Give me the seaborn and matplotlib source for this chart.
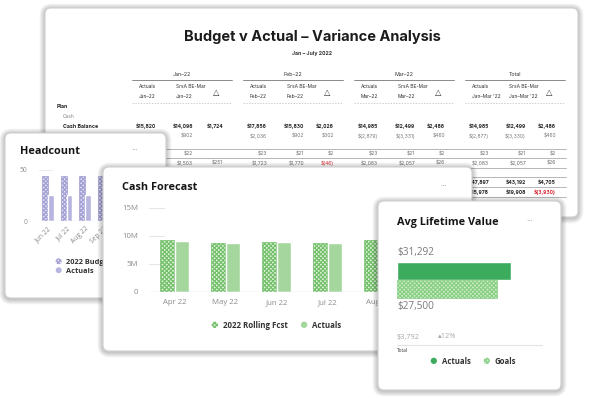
import matplotlib
matplotlib.use("Agg")
import matplotlib.pyplot as plt
import matplotlib.patches as mpatches
from matplotlib.legend_handler import HandlerPatch
import pandas as pd
import seaborn as sns

W, H = 590, 398

# ---------------------------------------------------------------
# Data
# ---------------------------------------------------------------
# Budget v Actual table
month_groups = ["Jan–22", "Feb–22", "Mar–22", "Total"]
period_labels = ["Jan–22", "Feb–22", "Mar–22", "Jan–Mar '22"]
col_heads = ["Actuals", "SrsA BE-Mar"]
cash_balance = ["$15,820", "$14,096", "$1,724", "$17,856", "$15,830", "$2,026",
                "$14,985", "$12,499", "$2,486", "$14,985", "$12,499", "$2,486"]
cash_detail = ["", "$902", "", "$2,036", "$902", "$302",
               "$(2,879)", "$(3,331)", "$460", "$(2,877)", "$(3,330)", "$460"]
units_row = ["", "$22", "", "$23", "$21", "$2",
             "$23", "$21", "$2", "$23", "$21", "$2"]
cost_row = ["$1,754", "$1,503", "$251", "$1,723", "$1,770", "$(46)",
            "$2,083", "$2,057", "$26", "$2,083", "$2,057", "$26"]
total_row_a = ["", "", "", "", "", "", "", "", "", "$47,897", "$43,192", "$4,705"]
total_row_b = ["", "", "", "", "", "", "", "", "", "$15,978", "$19,908", "$(3,930)"]

# Headcount
hc_months = ["Jun 22", "Jul 22", "Aug 22", "Sep 22", "Oct 22", "Nov 22"]
hc_budget = [44, 44, 44, 44, 44, 44]
hc_actual = [25, 25, 25, 25, 25, 25]

# Cash forecast
cf_months = ["Apr 22", "May 22", "Jun 22", "Jul 22", "Aug 22"]
cf_rolling = [9.2e6, 8.8e6, 9.0e6, 8.8e6, 9.3e6]
cf_actual = [9.15e6, 8.8e6, 9.0e6, 8.8e6, 9.3e6]

# Avg lifetime value
ltv_labels = ["Actuals", "Goals"]
ltv_values = [31292, 27500]

# ---------------------------------------------------------------
# Style
# ---------------------------------------------------------------
sns.set_theme(style="white")
plt.rcParams["font.family"] = ["Open Sans", "DejaVu Sans"]
plt.rcParams["hatch.linewidth"] = 0.9

HATCH = "xxxxxxxx"
LAV, LAV_LIGHT, LAV_HATCH = "#b7b5df", "#e4e2f4", "#a29fd4"
CF_GREEN, CF_LIGHT, CF_HATCH = "#a5d69d", "#e3f4df", "#74c06b"
LTV_GREEN, LTV_LIGHT, LTV_HATCH = "#3dab5e", "#d3eecd", "#8ad084"
TICK = "#8c8c8c"

fig = plt.figure(figsize=(W / 100, H / 100), dpi=100)


def layer(z):
    ax = fig.add_axes([0, 0, 1, 1], zorder=z)
    ax.set_xlim(0, W)
    ax.set_ylim(H, 0)
    ax.axis("off")
    return ax


def px_axes(x0, y0, x1, y1, z):
    ax = fig.add_axes([x0 / W, 1 - y1 / H, (x1 - x0) / W, (y1 - y0) / H], zorder=z)
    ax.patch.set_alpha(0)
    return ax


def card(ax, x0, y0, x1, y1):
    # soft shadow, then the white card itself
    for k in range(1, 7):
        ax.add_patch(mpatches.FancyBboxPatch(
            (x0, y0 + 1), x1 - x0, y1 - y0,
            boxstyle=f"round,pad={k * 0.9},rounding_size={6 + k}",
            fc="black", ec="none", alpha=0.04))
    ax.add_patch(mpatches.FancyBboxPatch(
        (x0, y0), x1 - x0, y1 - y0, boxstyle="round,pad=0,rounding_size=6",
        fc="white", ec="#d0d0d0", lw=0.8))


def card_title(ax, x, y, text, dots_x):
    ax.text(x, y, text, fontsize=7.8, fontweight="bold", color="#151515",
            ha="left", va="center")
    ax.text(dots_x, y, "···", fontsize=6, color="#9a9a9a", ha="center", va="center")


class HandlerDot(HandlerPatch):
    def create_artists(self, legend, orig_handle, xdescent, ydescent,
                       width, height, fontsize, trans):
        r = 0.45 * min(width, height)
        p = mpatches.Circle((width / 2 - xdescent, height / 2 - ydescent), r)
        self.update_prop(p, orig_handle, legend)
        p.set_transform(trans)
        return [p]


def dot_legend(ax, handles, labels, anchor, loc, anchor_ax, fontsize, ncol=1):
    ax.legend(handles, labels, loc=loc, bbox_to_anchor=anchor,
              bbox_transform=anchor_ax.transData, ncol=ncol, frameon=False,
              handler_map={mpatches.Patch: HandlerDot()},
              handlelength=1.0, handleheight=1.0, handletextpad=0.5,
              columnspacing=1.6, labelspacing=0.15, borderpad=0, borderaxespad=0,
              prop={"size": fontsize, "weight": "bold"}, labelcolor="#333333")


def style_chart(ax, labelsize):
    sns.despine(ax=ax, left=True, bottom=True)
    ax.set_xlabel("")
    ax.set_ylabel("")
    ax.tick_params(length=0, labelsize=labelsize, labelcolor=TICK)


def hatch_bars(bars, edge):
    for bar in bars:
        bar.set_hatch(HATCH)
        bar.set_edgecolor(edge)
        bar.set_linewidth(0.5)


# ---------------------------------------------------------------
# 1) Budget v Actual card
# ---------------------------------------------------------------
bud = layer(1)
card(bud, 45, 8, 578, 217)
TF = ["Inter", "DejaVu Sans"]
bud.text(312, 37, "Budget v Actual – Variance Analysis", fontsize=10.5, fontweight="bold",
         color="#1c1c1c", ha="center", va="center", family=TF)
bud.text(312, 54, "Jan – July 2022", fontsize=3.8, fontweight="bold", color="#333",
         ha="center", va="center", family=TF)

group_x0 = [132, 243, 354, 465]
col_right = [24, 61, 91]
for x0, month, period in zip(group_x0, month_groups, period_labels):
    bud.text(x0 + 50, 74, month, fontsize=3.8, color="#333", ha="center", va="center", family=TF)
    bud.plot([x0, x0 + 100], [80, 80], color="#777", lw=0.6)
    for k, head in enumerate(col_heads):
        hx = x0 + 7 + k * 37
        bud.text(hx, 86, head, fontsize=3.5, color="#333", ha="left", va="center", family=TF)
        bud.text(hx, 97, period, fontsize=3.5, color="#333", ha="left", va="center", family=TF)
    bud.text(x0 + 84, 92, "△", fontsize=6, color="#333", ha="center", va="center",
             family=["DejaVu Sans"])
    bud.plot([x0, x0 + 100], [103, 103], color="#bbbbbb", lw=0.5, ls=(0, (2, 2)))

bud.text(57, 107, "Plan", fontsize=3.8, fontweight="bold", color="#222", va="center", family=TF)
bud.text(63, 117, "Cash", fontsize=3.5, color="#888", va="center", family=TF)
bud.text(63, 126, "Cash Balance", fontsize=3.8, fontweight="bold", color="#222",
         va="center", family=TF)

rows = [
    (126, cash_balance, "bold", "#222"),
    (136, cash_detail, "normal", "#777"),
    (154, units_row, "normal", "#666"),
    (163, cost_row, "normal", "#666"),
    (182, total_row_a, "bold", "#222"),
    (192, total_row_b, "bold", "#222"),
]
for y, values, weight, color in rows:
    for i, s in enumerate(values):
        g, j = divmod(i, 3)
        c = "#d3262f" if (j == 2 and "(" in s) else color
        bud.text(group_x0[g] + col_right[j], y, s, fontsize=3.6, fontweight=weight,
                 color=c, ha="right", va="center", family=TF)
for y in [149, 158, 168, 177, 187, 197]:
    bud.plot([55, 566], [y, y], color="#9a9a9a", lw=0.5)

# ---------------------------------------------------------------
# 2) Headcount card
# ---------------------------------------------------------------
hc_card = layer(2)
card(hc_card, 5, 133, 166, 298)
card_title(hc_card, 20, 151, "Headcount", 135)

hc_df = pd.DataFrame({
    "month": hc_months * 2,
    "value": hc_budget + hc_actual,
    "series": ["2022 Budget"] * len(hc_months) + ["Actuals"] * len(hc_months),
})
ax_hc = px_axes(38.75, 170, 38.75 + 18.5 * len(hc_months), 221, 2.5)
sns.barplot(data=hc_df, x="month", y="value", hue="series", palette=[LAV_LIGHT, LAV],
            width=0.6, gap=0, saturation=1, errorbar=None, legend=False, ax=ax_hc)
hatch_bars(ax_hc.containers[0], LAV_HATCH)
ax_hc.set_ylim(0, 50)
ax_hc.set_xlim(-0.5, len(hc_months) - 0.5)
ax_hc.set_yticks([0, 50])
ax_hc.set_xticks(range(len(hc_months)))
ax_hc.set_xticklabels(hc_months, rotation=45, ha="right", rotation_mode="anchor")
style_chart(ax_hc, 4.8)
ax_hc.tick_params(axis="y", pad=8)
ax_hc.tick_params(axis="x", pad=3)
ax_hc.axhline(0, color="#dde2f0", lw=1)
ax_hc.axhline(50, xmax=0.12, color="#ececec", lw=0.8, zorder=0)
dot_legend(ax_hc,
           [mpatches.Patch(fc=LAV_LIGHT, ec=LAV_HATCH, hatch=HATCH, lw=0),
            mpatches.Patch(fc=LAV, lw=0)],
           ["2022 Budget", "Actuals"], (55, 258), "upper left", hc_card, 5.3)

# ---------------------------------------------------------------
# 3) Cash Forecast card
# ---------------------------------------------------------------
cf_card = layer(3)
card(cf_card, 103, 167, 472, 351)
card_title(cf_card, 122, 187, "Cash Forecast", 444)

cf_df = pd.DataFrame({
    "month": cf_months * 2,
    "value": cf_rolling + cf_actual,
    "series": ["2022 Rolling Fcst"] * len(cf_months) + ["Actuals"] * len(cf_months),
})
ax_cf = px_axes(149, 208, 149 + 51 * len(cf_months), 292, 3.5)
sns.barplot(data=cf_df, x="month", y="value", hue="series", palette=[CF_LIGHT, CF_GREEN],
            width=0.6, gap=0.13, saturation=1, errorbar=None, legend=False, ax=ax_cf)
hatch_bars(ax_cf.containers[0], CF_HATCH)
ax_cf.set_ylim(0, 15e6)
ax_cf.set_xlim(-0.5, len(cf_months) - 0.5)
ax_cf.set_yticks([0, 5e6, 10e6, 15e6])
ax_cf.set_yticklabels(["0", "5M", "10M", "15M"])
style_chart(ax_cf, 5.6)
ax_cf.tick_params(axis="y", pad=8)
ax_cf.tick_params(axis="x", pad=5)
ax_cf.axhline(0, color="#dde2f0", lw=1)
for v in [5e6, 10e6, 15e6]:
    ax_cf.axhline(v, xmax=0.06, color="#e6e6e6", lw=0.8, zorder=0)
dot_legend(ax_cf,
           [mpatches.Patch(fc=CF_LIGHT, ec=CF_HATCH, hatch=HATCH, lw=0),
            mpatches.Patch(fc=CF_GREEN, lw=0)],
           ["2022 Rolling Fcst", "Actuals"], (276, 325), "center", cf_card, 5.7, ncol=2)

# ---------------------------------------------------------------
# 4) Avg Lifetime Value card
# ---------------------------------------------------------------
ltv_card = layer(4)
card(ltv_card, 378, 201, 561, 390)
card_title(ltv_card, 397, 222, "Avg Lifetime Value", 530)

ax_ltv = px_axes(397, 261.5, 397 + 114 * 35000 / ltv_values[0], 298.5, 4.5)
sns.barplot(x=ltv_values, y=ltv_labels, hue=ltv_labels, palette=[LTV_GREEN, LTV_LIGHT],
            orient="h", width=0.95, saturation=1, errorbar=None, legend=False, ax=ax_ltv)
hatch_bars(ax_ltv.containers[1], LTV_HATCH)
ax_ltv.set_xlim(0, 35000)
ax_ltv.set_ylim(1.5, -0.5)
ax_ltv.axis("off")

diff = ltv_values[0] - ltv_values[1]
ltv_card.text(397, 253, f"${ltv_values[0]:,}", fontsize=7.2, color="#7a7a7a", va="center")
ltv_card.text(397, 306, f"${ltv_values[1]:,}", fontsize=7.2, color="#7a7a7a", va="center")
ltv_card.text(397, 337, f"${diff:,}", fontsize=5.3, color="#a8a8a8", va="center")
ltv_card.text(438, 337, f"▴{diff / ltv_values[0]:.0%}", fontsize=5.3, color="#a8a8a8",
              va="center")
ltv_card.plot([397, 542], [345, 345], color="#e2e2e2", lw=0.8)
ltv_card.text(397, 351, "Total", fontsize=3.4, color="#333", va="center")
dot_legend(ax_ltv,
           [mpatches.Patch(fc=LTV_GREEN, lw=0),
            mpatches.Patch(fc=LTV_LIGHT, ec=LTV_HATCH, hatch=HATCH, lw=0)],
           ltv_labels, (473, 361), "center", ltv_card, 5.6, ncol=2)

fig.savefig("out.png", dpi=100)
